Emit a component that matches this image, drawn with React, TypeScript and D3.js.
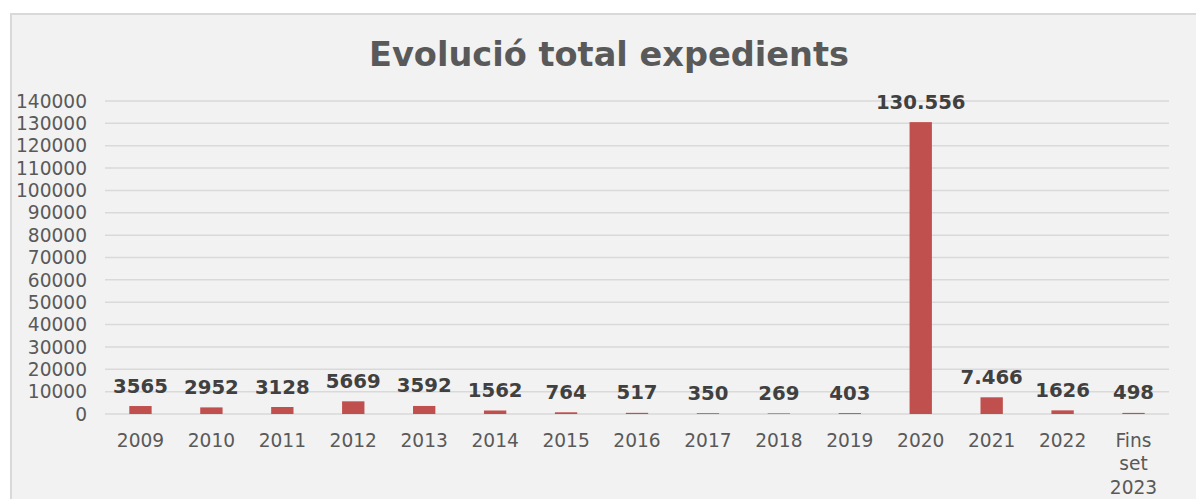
import React from "react";
import * as d3 from "d3";

const categories: string[][] = [
  ["2009"], ["2010"], ["2011"], ["2012"], ["2013"], ["2014"], ["2015"], ["2016"],
  ["2017"], ["2018"], ["2019"], ["2020"], ["2021"], ["2022"], ["Fins", "set", "2023"],
];
const values: number[] = [3565, 2952, 3128, 5669, 3592, 1562, 764, 517, 350, 269, 403, 130556, 7466, 1626, 498];
const valueLabels: string[] = ["3565", "2952", "3128", "5669", "3592", "1562", "764", "517", "350", "269", "403", "130.556", "7.466", "1626", "498"];
const yTicks: number[] = [0, 10000, 20000, 30000, 40000, 50000, 60000, 70000, 80000, 90000, 100000, 110000, 120000, 130000, 140000];
const title = "Evolució total expedients";

const W = 1196;
const H = 499;
const FONT = "'DejaVu Sans', Verdana, sans-serif";

export default function App() {
  const left = 105;
  const right = 1169;
  const top = 101;
  const bottom = 414;

  const x = d3
    .scaleBand<number>()
    .domain(d3.range(values.length))
    .range([left, right])
    .padding(0);
  const y = d3.scaleLinear().domain([0, 140000]).range([bottom, top]);
  const barW = x.bandwidth() * 0.315;

  return (
    <svg
      width={W}
      height={H}
      style={{ position: "absolute", left: 0, top: 0, background: "#ffffff" }}
    >
      <rect x={11} y={14} width={1200} height={500} fill="#f2f2f2" stroke="#d9d9d9" strokeWidth={2} />
      <text x={609} y={66} textAnchor="middle" fontFamily={FONT} fontWeight="bold" fontSize={33.6} fill="#595959">
        {title}
      </text>
      {yTicks.map((t) => (
        <g key={t}>
          <line x1={left} x2={right} y1={y(t)} y2={y(t)} stroke="#d9d9d9" strokeWidth={1.5} />
          <text x={87} y={y(t)} dy="0.36em" textAnchor="end" fontFamily={FONT} fontSize={18.6} fill="#595959">
            {t}
          </text>
        </g>
      ))}
      {values.map((v, i) => {
        const cx = (x(i) as number) + x.bandwidth() / 2;
        return (
          <g key={i}>
            <rect x={cx - barW / 2} y={y(v)} width={barW} height={bottom - y(v)} fill="#c0504d" />
            <text x={cx} y={y(v) - 13.5} textAnchor="middle" fontFamily={FONT} fontWeight="bold" fontSize={19.7} fill="#404040">
              {valueLabels[i]}
            </text>
            {categories[i].map((line, j) => (
              <text key={j} x={cx} y={447 + j * 23.3} textAnchor="middle" fontFamily={FONT} fontSize={18.6} fill="#595959">
                {line}
              </text>
            ))}
          </g>
        );
      })}
    </svg>
  );
}
